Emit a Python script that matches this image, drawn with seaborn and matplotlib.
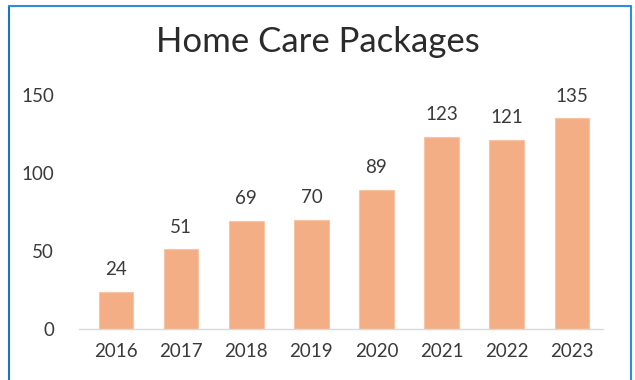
import matplotlib
matplotlib.use("Agg")
import matplotlib.pyplot as plt
from matplotlib.lines import Line2D
import seaborn as sns
import pandas as pd

years = ["2016", "2017", "2018", "2019", "2020", "2021", "2022", "2023"]
packages = [24, 51, 69, 70, 89, 123, 121, 135]
y_ticks = [0, 50, 100, 150]

sns.set_style("white")
plt.rcParams["font.family"] = ["Lato", "DejaVu Sans"]

df = pd.DataFrame({"year": years, "packages": packages})

W, H = 635, 380
fig = plt.figure(figsize=(W / 100, H / 100), dpi=100)
ax = fig.add_axes([79 / W, 1 - 329 / H, (603 - 79) / W, (329 - 95) / H])

sns.barplot(data=df, x="year", y="packages", color="#F4AE85", saturation=1,
            width=0.53, edgecolor="#F8C4A4", linewidth=0.8, ax=ax)

ax.set_xlim(-0.57, 7.48)
ax.set_ylim(0, 150)
ax.set_yticks(y_ticks)
ax.set_xlabel("")
ax.set_ylabel("")
for s in ["top", "right", "left"]:
    ax.spines[s].set_visible(False)
ax.spines["bottom"].set_color("#D9D9D9")
ax.spines["bottom"].set_linewidth(1.0)
ax.tick_params(axis="both", length=0, labelsize=13.5, labelcolor="#3A3A3A")
ax.tick_params(axis="y", pad=18)
ax.tick_params(axis="x", pad=10)

for container in ax.containers:
    ax.bar_label(container, labels=[str(v) for v in packages], padding=10,
                 fontsize=13.5, color="#3A3A3A")

fig.text(318 / W, 1 - 42 / H, "Home Care Packages", ha="center", va="center",
         fontsize=25, color="#2B2B2B")

# thin blue frame around the chart area
blue = "#2F8BDB"
fig.add_artist(Line2D([9 / W, 9 / W], [0, 1 - 6 / H], color="#1C73C6", lw=1.5,
                      transform=fig.transFigure))
fig.add_artist(Line2D([9 / W, 631 / W], [1 - 6 / H, 1 - 6 / H], color=blue, lw=1.5,
                      transform=fig.transFigure))
fig.add_artist(Line2D([631 / W, 631 / W], [0, 1 - 6 / H], color=blue, lw=1.5,
                      transform=fig.transFigure))

fig.savefig("out.png", dpi=100)
